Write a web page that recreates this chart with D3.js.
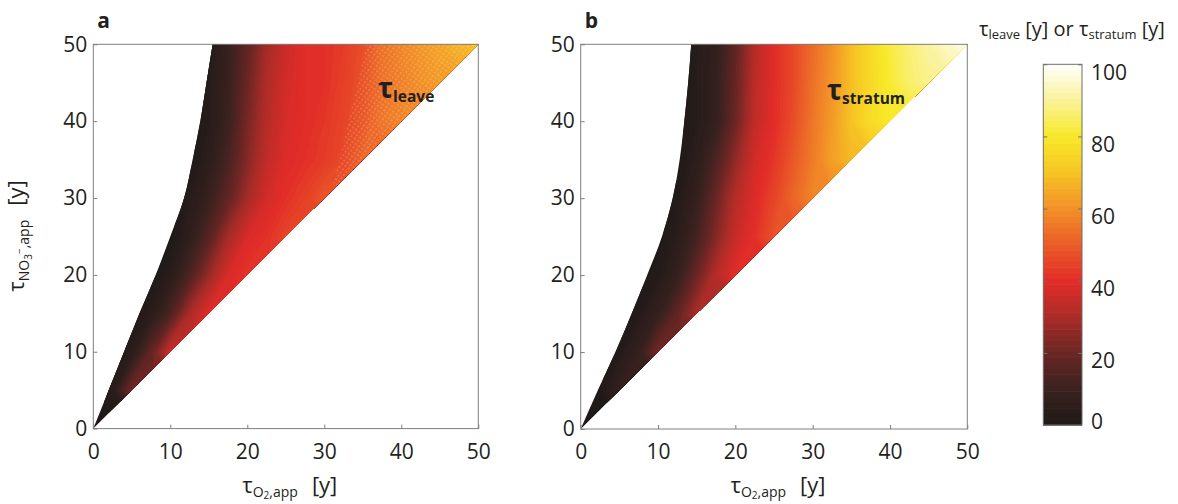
<!DOCTYPE html>
<html>
<head>
<meta charset="utf-8">
<script src="https://cdn.jsdelivr.net/npm/d3@7"></script>
<style>
body { margin: 0; background: #fff; }
text { font-family: "Open Sans", "Noto Sans", sans-serif; fill: #231f20; }
</style>
</head>
<body>
<svg id="chart" width="1178" height="504"></svg>
<script>
// Datos (a: tau_leave, b: tau_stratum)
var _ = null;
var axisTicks = [0, 10, 20, 30, 40, 50];
var barTicks = [0, 20, 40, 60, 80, 100];
var gridX = [0, 2.5, 5, 7.5, 10, 12.5, 15, 17.5, 20, 22.5, 25, 27.5, 30, 32.5, 35, 37.5, 40, 42.5, 45, 47.5, 50];
var gridY = [0, 5, 10, 15, 20, 25, 30, 35, 40, 45, 50];

// borde izquierdo de la region coloreada (x para cada gridY)
var edgeLeave   = [0, 2.0, 4.0, 6.0, 8.1, 10.0, 11.8, 12.9, 13.9, 14.7, 15.5];
var edgeStratum = [0, 2.2, 4.5, 6.6, 8.6, 10.5, 11.9, 12.8, 13.4, 13.9, 14.3];

// una fila por gridY, una columna por gridX
var tauLeave = [
  [0, _, _, _, _, _, _, _, _, _, _, _, _, _, _, _, _, _, _, _, _],
  [0, 4, 22, _, _, _, _, _, _, _, _, _, _, _, _, _, _, _, _, _, _],
  [_, 0, 4, 18, 36, _, _, _, _, _, _, _, _, _, _, _, _, _, _, _, _],
  [_, _, 0, 4, 14, 30, 40, _, _, _, _, _, _, _, _, _, _, _, _, _, _],
  [_, _, _, 0, 4, 14, 27, 38, 42, _, _, _, _, _, _, _, _, _, _, _, _],
  [_, _, _, _, 0, 6, 16, 29, 38, 41, 45, _, _, _, _, _, _, _, _, _, _],
  [_, _, _, _, 0, 3, 9, 18, 29, 37, 41, 44, 49, _, _, _, _, _, _, _, _],
  [_, _, _, _, _, 0, 5, 13, 24, 34, 39, 41, 43, 46, 52, _, _, _, _, _, _],
  [_, _, _, _, _, 0, 3, 10, 22, 32, 38, 40, 42, 45, 49, 55, 58, _, _, _, _],
  [_, _, _, _, _, 0, 3, 9, 20, 31, 37, 40, 41, 44, 48, 54, 57, 60, 62, _, _],
  [_, _, _, _, _, _, 1, 9, 18, 29, 36, 40, 41, 43, 47, 54, 58, 61, 64, 67, 70]
];
var tauStratum = [
  [0, _, _, _, _, _, _, _, _, _, _, _, _, _, _, _, _, _, _, _, _],
  [0, 1, 8, _, _, _, _, _, _, _, _, _, _, _, _, _, _, _, _, _, _],
  [_, 0, 2, 8, 22, _, _, _, _, _, _, _, _, _, _, _, _, _, _, _, _],
  [_, _, 0, 2, 8, 18, 30, _, _, _, _, _, _, _, _, _, _, _, _, _, _],
  [_, _, _, 0, 2, 8, 20, 32, 40, _, _, _, _, _, _, _, _, _, _, _, _],
  [_, _, _, _, 0, 4, 12, 24, 35, 41, 48, _, _, _, _, _, _, _, _, _, _],
  [_, _, _, _, 0, 2, 8, 20, 32, 39, 45, 52, 58, _, _, _, _, _, _, _, _],
  [_, _, _, _, _, 0, 5, 14, 26, 37, 42, 49, 56, 63, 68, _, _, _, _, _, _],
  [_, _, _, _, _, 0, 3, 8, 20, 34, 40, 47, 55, 62, 70, 77, 80, _, _, _, _],
  [_, _, _, _, _, 0, 3, 8, 19, 33, 40, 46, 54, 61, 69, 76, 81, 86, 89, _, _],
  [_, _, _, _, _, 0, 3, 7, 18, 32, 40, 46, 53, 60, 69, 76, 82, 87, 91, 95, 98]
];

// zona con la malla punteada en el panel a
var meshLeave = [[35.5, 50], [50, 50], [31, 31]];

// mapa de color
var cmapValues = [0, 10, 20, 30, 40, 50, 60, 70, 80, 90, 100];
var cmapColors = ["#1e1a18", "#3a2220", "#6a2624", "#aa2c28", "#e22c28", "#ea5c28",
                  "#f29028", "#f6c424", "#f8e828", "#faf298", "#fffffc"];

var svg = d3.select("#chart");
svg.append("rect").attr("width", 1178).attr("height", 504).attr("fill", "#fff");
var defs = svg.append("defs");

var colour = d3.scaleLinear().domain(cmapValues).range(cmapColors).clamp(true);
var levels = d3.range(0, 100, 1);

defs.append("pattern")
  .attr("id", "mesh")
  .attr("width", 4).attr("height", 4)
  .attr("patternUnits", "userSpaceOnUse")
  .attr("patternTransform", "rotate(35)")
  .append("circle")
  .attr("cx", 2).attr("cy", 2).attr("r", 0.8)
  .attr("fill", "#fff").attr("fill-opacity", 0.35);

var panels = [
  { id: "a", values: tauLeave, edge: edgeLeave, name: "leave", mesh: meshLeave,
    box: { l: 93.3, r: 478.3, t: 44.3, b: 428.6 }, tag: [378, 98] },
  { id: "b", values: tauStratum, edge: edgeStratum, name: "stratum", mesh: null,
    box: { l: 580.7, r: 967.3, t: 44.3, b: 429 }, tag: [827, 100] }
];

function padRow(row) {
  var first = row.findIndex(function(v) { return v !== null; });
  var last = row.length - 1;
  while (row[last] === null) last--;
  return row.map(function(v, i) {
    if (v !== null) return v;
    return i < first ? row[first] : row[last];
  });
}

panels.forEach(function(p) {
  var xs = d3.scaleLinear().domain([0, 50]).range([p.box.l, p.box.r]);
  var ys = d3.scaleLinear().domain([0, 50]).range([p.box.b, p.box.t]);
  var nx = gridX.length, ny = gridY.length;
  var gx = d3.scaleLinear().domain([0.5, nx - 0.5]).range([gridX[0], gridX[nx - 1]]);
  var gy = d3.scaleLinear().domain([0.5, ny - 0.5]).range([gridY[0], gridY[ny - 1]]);

  // region: borde izquierdo (curva) + diagonal
  var edgeLine = d3.line()
    .x(function(d, j) { return xs(p.edge[j]); })
    .y(function(d) { return ys(d); })
    .curve(d3.curveMonotoneY);
  defs.append("clipPath").attr("id", "clip-" + p.id)
    .append("path").attr("d", edgeLine(gridY) + "L" + [xs(50), ys(50)] + "Z");

  var g = svg.append("g").attr("clip-path", "url(#clip-" + p.id + ")");
  var proj = d3.geoTransform({
    point: function(px, py) { this.stream.point(xs(gx(px)), ys(gy(py))); }
  });
  var path = d3.geoPath(proj);
  var flat = [].concat.apply([], p.values.map(padRow));
  var bands = d3.contours().size([nx, ny]).thresholds(levels)(flat);
  g.selectAll("path.band").data(bands).join("path")
    .attr("class", "band")
    .attr("d", path)
    .attr("fill", function(d) { return colour(d.value + 0.5); });

  if (p.mesh) {
    g.append("path")
      .attr("d", "M" + p.mesh.map(function(d) { return [xs(d[0]), ys(d[1])]; }).join("L") + "Z")
      .attr("fill", "url(#mesh)");
  }

  // marco
  svg.append("rect")
    .attr("x", p.box.l).attr("y", p.box.t)
    .attr("width", p.box.r - p.box.l).attr("height", p.box.b - p.box.t)
    .attr("fill", "none").attr("stroke", "#7f7f7f").attr("stroke-width", 1);

  var ax = svg.append("g").attr("transform", "translate(0," + p.box.b + ")")
    .call(d3.axisBottom(xs).tickValues(axisTicks).tickSize(-4).tickPadding(15));
  var ay = svg.append("g").attr("transform", "translate(" + p.box.l + ",0)")
    .call(d3.axisLeft(ys).tickValues(axisTicks).tickSize(-4).tickPadding(6));
  [ax, ay].forEach(function(a) {
    a.select(".domain").remove();
    a.selectAll("line").attr("stroke", "#7f7f7f");
    a.selectAll("text").attr("font-size", 21).attr("fill", "#231f20")
      .style("font-family", '"Open Sans", "Noto Sans", sans-serif');
  });

  // letra del panel
  svg.append("text").attr("x", p.box.l + 4).attr("y", 28)
    .attr("font-size", 21).attr("font-weight", 700).text(p.id);

  // etiqueta dentro del grafico
  var tag = svg.append("text").attr("x", p.tag[0]).attr("y", p.tag[1])
    .attr("font-size", 28).attr("font-weight", 700).text("τ");
  tag.append("tspan").attr("font-size", 15.5).attr("dy", 4).text(p.name);

  // titulo eje x
  var xt = svg.append("text")
    .attr("x", (p.box.l + p.box.r) / 2 + 4).attr("y", 493)
    .attr("text-anchor", "middle").attr("font-size", 22).text("τ");
  xt.append("tspan").attr("font-size", 14).attr("dy", 4).text("O");
  xt.append("tspan").attr("font-size", 10).attr("dy", 2).text("2");
  xt.append("tspan").attr("font-size", 14).attr("dy", -2).text(",app");
  xt.append("tspan").attr("font-size", 22).attr("dy", -4).attr("dx", 14).text("[y]");
});

// titulo eje y (solo panel a)
var yt = svg.append("text")
  .attr("transform", "translate(24,236) rotate(-90)")
  .attr("text-anchor", "middle").attr("font-size", 22).text("τ");
yt.append("tspan").attr("font-size", 14).attr("dy", 5).text("NO");
yt.append("tspan").attr("font-size", 10).attr("dy", 3).text("3");
yt.append("tspan").attr("font-size", 10).attr("dy", -9).text("−");
yt.append("tspan").attr("font-size", 14).attr("dy", 6).text(",app");
yt.append("tspan").attr("font-size", 22).attr("dy", -5).attr("dx", 14).text("[y]");

// barra de color
var cb = { l: 1043.3, r: 1082, t: 64.3, b: 425 };
var cy = d3.scaleLinear().domain([0, 100]).range([cb.b, cb.t]);
var step = 100 / 64;
svg.append("g").selectAll("rect").data(d3.range(0, 100 - 1e-9, step)).join("rect")
  .attr("x", cb.l).attr("width", cb.r - cb.l)
  .attr("y", function(d) { return cy(d + step); })
  .attr("height", function(d) { return cy(d) - cy(d + step) + 0.6; })
  .attr("fill", function(d) { return colour(d + step / 2); });
svg.append("rect")
  .attr("x", cb.l).attr("y", cb.t).attr("width", cb.r - cb.l).attr("height", cb.b - cb.t)
  .attr("fill", "none").attr("stroke", "#6f6f6f").attr("stroke-width", 1);

var cbR = svg.append("g").attr("transform", "translate(" + cb.r + ",0)")
  .call(d3.axisRight(cy).tickValues(barTicks).tickSize(-4).tickPadding(9));
var cbL = svg.append("g").attr("transform", "translate(" + cb.l + ",0)")
  .call(d3.axisLeft(cy).tickValues(barTicks).tickSize(-4).tickFormat(""));
[cbR, cbL].forEach(function(a) {
  a.select(".domain").remove();
  a.selectAll("line").attr("stroke", "#6f6f6f");
});
cbR.selectAll("text").attr("font-size", 21).attr("fill", "#231f20")
  .style("font-family", '"Open Sans", "Noto Sans", sans-serif')
  .attr("y", function(d) { return d === barTicks[0] ? -3 : 8; });

var ct = svg.append("text").attr("x", 979).attr("y", 36).attr("font-size", 20).text("τ");
ct.append("tspan").attr("font-size", 13).attr("dy", 3).text("leave");
ct.append("tspan").attr("dy", -3).text(" [y] or τ");
ct.append("tspan").attr("font-size", 13).attr("dy", 3).text("stratum");
ct.append("tspan").attr("dy", -3).text(" [y]");
</script>
</body>
</html>
